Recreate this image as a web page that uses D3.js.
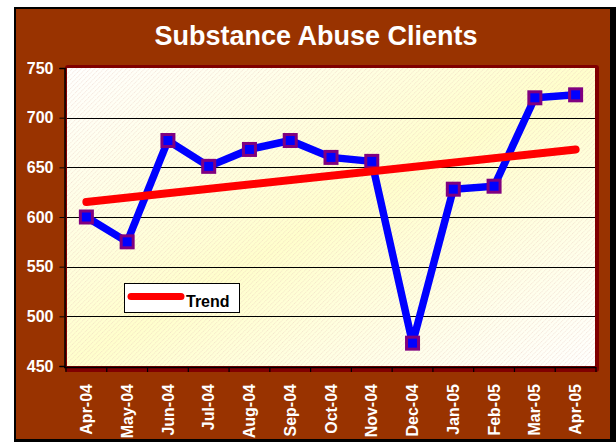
<!DOCTYPE html>
<html>
<head>
<meta charset="utf-8">
<script src="https://cdn.jsdelivr.net/npm/d3@7"></script>
<style>
  body { margin: 0; background: #fff; }
  svg { display: block; font-family: 'Liberation Sans', Arial, sans-serif; }
</style>
</head>
<body>
<div id="chart"></div>
<script>
const chartTitle = 'Substance Abuse Clients';
const months = ['Apr-04', 'May-04', 'Jun-04', 'Jul-04', 'Aug-04', 'Sep-04', 'Oct-04',
  'Nov-04', 'Dec-04', 'Jan-05', 'Feb-05', 'Mar-05', 'Apr-05'];
const clients = [600, 575, 677, 651, 668, 677, 660, 656, 473, 628, 631, 720, 723];
// trend line end values (first and last month)
const trendEnds = [615, 668];
const yTicks = [450, 500, 550, 600, 650, 700, 750];
const legendLabel = 'Trend';

const svgWidth = 616;
const svgHeight = 442;

const plot = {left: 66, right: 596, top: 68, bottom: 366};

const svg = d3.select('#chart')
                .append('svg')
                .attr('width', svgWidth)
                .attr('height', svgHeight);

const defs = svg.append('defs');

// white - yellow - white diagonal fill
const grad = defs.append('linearGradient')
                 .attr('id', 'bg')
                 .attr('x1', 0).attr('y1', 0)
                 .attr('x2', 1).attr('y2', 1);
grad.append('stop').attr('offset', '0%').attr('stop-color', '#ffffff');
grad.append('stop').attr('offset', '50%').attr('stop-color', '#ffffcc');
grad.append('stop').attr('offset', '100%').attr('stop-color', '#ffffff');

const hatch = defs.append('pattern')
                  .attr('id', 'hatch')
                  .attr('patternUnits', 'userSpaceOnUse')
                  .attr('width', 3.2)
                  .attr('height', 6)
                  .attr('patternTransform', 'rotate(45)');
hatch.append('line')
    .attr('x1', 0.5).attr('y1', 0)
    .attr('x2', 0.5).attr('y2', 6)
    .attr('stroke', '#e4bfb4')
    .attr('stroke-width', 0.8)
    .attr('stroke-dasharray', '1.2,0.9')
    .attr('opacity', 0.55);

// outer frame
svg.append('rect')
    .attr('x', 14).attr('y', 7)
    .attr('width', svgWidth - 14).attr('height', svgHeight - 7)
    .attr('fill', '#000');
svg.append('rect')
    .attr('x', 16).attr('y', 9)
    .attr('width', 594).attr('height', 430)
    .attr('fill', '#993300');

svg.append('text')
    .attr('x', 316)
    .attr('y', 45)
    .attr('text-anchor', 'middle')
    .attr('fill', '#fff')
    .attr('font-weight', 'bold')
    .attr('font-size', 27)
    .text(chartTitle);

// scales
const x = d3.scalePoint()
              .domain(months)
              .range([plot.left, plot.right])
              .padding(0.5);
const y = d3.scaleLinear()
              .domain([450, 750])
              .range([plot.bottom, plot.top]);
const step = x.step();

// plot area with maroon border
svg.append('rect')
    .attr('x', plot.left - 1)
    .attr('y', plot.top - 3)
    .attr('width', plot.right - plot.left + 4)
    .attr('height', plot.bottom - plot.top + 9)
    .attr('rx', 3)
    .attr('fill', '#800000');
svg.append('rect')
    .attr('x', plot.left + 1)
    .attr('y', plot.top)
    .attr('width', plot.right - plot.left - 2)
    .attr('height', plot.bottom - plot.top)
    .attr('fill', 'url(#bg)');
svg.append('rect')
    .attr('x', plot.left + 1)
    .attr('y', plot.top)
    .attr('width', plot.right - plot.left - 2)
    .attr('height', plot.bottom - plot.top)
    .attr('fill', 'url(#hatch)');

// gridlines
svg.append('g')
    .selectAll('line')
    .data(yTicks.filter(d => d > 450 && d < 750))
    .join('line')
    .attr('x1', plot.left + 1)
    .attr('x2', plot.right - 1)
    .attr('y1', d => Math.round(y(d)) + 0.5)
    .attr('y2', d => Math.round(y(d)) + 0.5)
    .attr('stroke', '#000')
    .attr('stroke-width', 1);

// y axis
const yAxis = svg.append('g')
                  .attr('transform', `translate(${plot.left - 1.5}, 0)`)
                  .call(d3.axisLeft(y).tickValues(yTicks).tickSize(5).tickPadding(6));
yAxis.select('.domain').attr('stroke', '#000').attr('stroke-width', 1.5);
yAxis.selectAll('.tick line').attr('stroke', '#000');
yAxis.selectAll('.tick text')
    .attr('fill', '#fff')
    .attr('font-weight', 'bold')
    .attr('font-size', 16)
    .attr('font-family', "'Liberation Sans', Arial, sans-serif");

// x axis: line + ticks at category boundaries
const xAxisG = svg.append('g');
xAxisG.append('line')
    .attr('x1', plot.left - 2)
    .attr('x2', plot.right)
    .attr('y1', plot.bottom + 1.5)
    .attr('y2', plot.bottom + 1.5)
    .attr('stroke', '#000')
    .attr('stroke-width', 1.5);
xAxisG.selectAll('line.tick')
    .data(months.concat(['end']))
    .join('line')
    .attr('class', 'tick')
    .attr('x1', (d, i) => plot.left + i * step)
    .attr('x2', (d, i) => plot.left + i * step)
    .attr('y1', plot.bottom + 1)
    .attr('y2', plot.bottom + 6)
    .attr('stroke', '#000')
    .attr('stroke-width', 1.2);
xAxisG.selectAll('text')
    .data(months)
    .join('text')
    .attr('transform', d => `translate(${x(d)}, 384) rotate(-90)`)
    .attr('text-anchor', 'end')
    .attr('dy', '0.35em')
    .attr('fill', '#fff')
    .attr('font-weight', 'bold')
    .attr('font-size', 16)
    .text(d => d);

// series line
const line = d3.line()
                 .x((d, i) => x(months[i]))
                 .y(d => y(d));
svg.append('path')
    .datum(clients)
    .attr('d', line)
    .attr('fill', 'none')
    .attr('stroke', '#0000ff')
    .attr('stroke-width', 7.5)
    .attr('stroke-linejoin', 'miter');

svg.append('g')
    .selectAll('rect')
    .data(clients)
    .join('rect')
    .attr('x', (d, i) => x(months[i]) - 6)
    .attr('y', d => y(d) - 6)
    .attr('width', 12)
    .attr('height', 12)
    .attr('fill', '#0000ff')
    .attr('stroke', '#800080')
    .attr('stroke-width', 3);

// trend line
svg.append('line')
    .attr('x1', x(months[0]))
    .attr('x2', x(months[months.length - 1]))
    .attr('y1', y(trendEnds[0]))
    .attr('y2', y(trendEnds[1]))
    .attr('stroke', '#ff0000')
    .attr('stroke-width', 8)
    .attr('stroke-linecap', 'round');

// legend
const legend = svg.append('g').attr('transform', 'translate(124, 283)');
legend.append('rect')
    .attr('x', 0.5).attr('y', 0.5)
    .attr('width', 115).attr('height', 29)
    .attr('fill', '#fff')
    .attr('stroke', '#000')
    .attr('stroke-width', 1);
legend.append('line')
    .attr('x1', 7).attr('x2', 57)
    .attr('y1', 13.5).attr('y2', 13.5)
    .attr('stroke', '#ff0000')
    .attr('stroke-width', 7)
    .attr('stroke-linecap', 'round');
legend.append('text')
    .attr('x', 62)
    .attr('y', 24)
    .attr('fill', '#000')
    .attr('font-weight', 'bold')
    .attr('font-size', 16)
    .text(legendLabel);
</script>
</body>
</html>
